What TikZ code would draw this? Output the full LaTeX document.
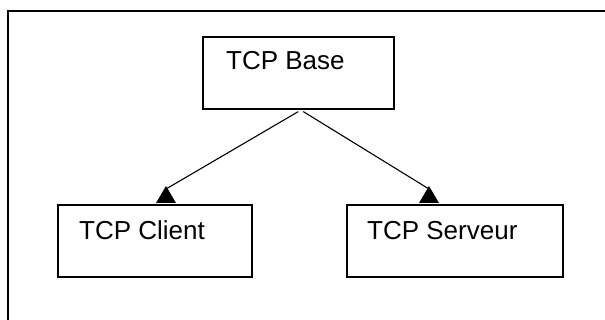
\documentclass[tikz,border=0pt]{standalone}
\usepackage{fontspec}
\setmainfont{Liberation Sans}
\usetikzlibrary{calc}
\begin{document}
\begin{tikzpicture}[x=1pt,y=-1pt,
  box/.style={draw=black, line width=1.6pt, rectangle, inner sep=0pt, anchor=north west},
  lbl/.style={anchor=base west, inner sep=0pt, font=\fontsize{26}{30}\selectfont},
  conn/.style={draw=black, line width=1.1pt},
  tipfill/.style={fill=black}]
\useasboundingbox (0,0) rectangle (605,320);
% outer frame (top and left edges)
\draw[line width=1.6pt] (8,320) -- (8,11) -- (605,11);
% boxes
\node[box, minimum width=191pt, minimum height=72pt] (base) at (202,36) {};
\node[box, minimum width=194pt, minimum height=72pt] (client) at (57,204) {};
\node[box, minimum width=216pt, minimum height=72pt] (server) at (346,204) {};
% labels
\node[lbl] (baseT) at ($(base.north west)+(24,34)$) {TCP Base};
\node[lbl] (clientT) at ($(client.north west)+(22,36)$) {TCP Client};
\node[lbl] (serverT) at ($(server.north west)+(21,36)$) {TCP Serveur};
% connectors
\coordinate (sL) at ($(base.south)+(0,2)$);
\coordinate (sR) at ($(base.south)+(5,2)$);
\coordinate (tL) at (166,189);
\coordinate (tR) at (429,189);
\draw[conn] (sL) -- (tL);
\draw[conn] (sR) -- (tR);
% arrow heads (upright triangles sitting on the boxes)
\fill[tipfill] (tL) ++(0,-3) -- ++(-10,17) -- ++(20,0) -- cycle;
\fill[tipfill] (tR) ++(0,-3) -- ++(-10,17) -- ++(20,0) -- cycle;
\end{tikzpicture}
\end{document}
